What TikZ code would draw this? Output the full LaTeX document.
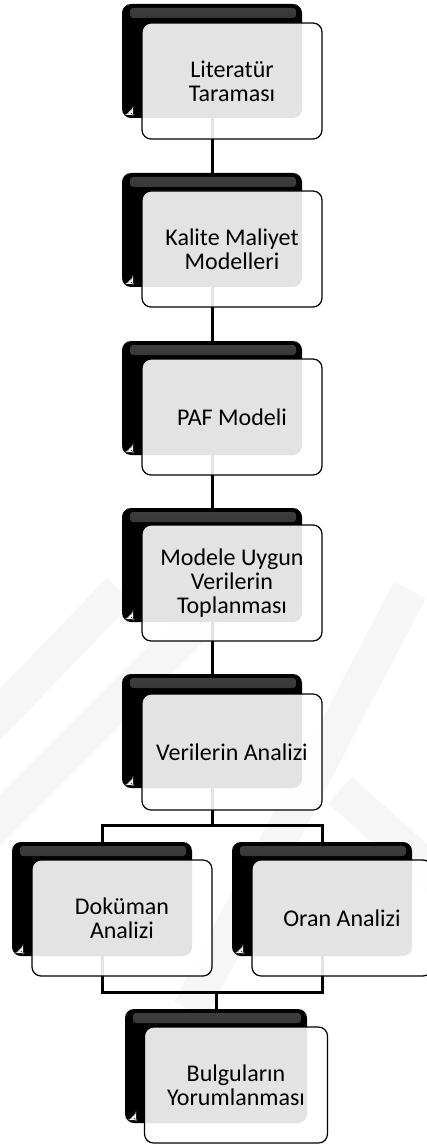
\documentclass[tikz,border=0pt]{standalone}
\usepackage{fontspec}
\setmainfont{Carlito}
\usetikzlibrary{positioning, backgrounds}

\begin{document}
\begin{tikzpicture}[x=1pt, y=-1pt, font=\fontsize{24}{24}\selectfont]

\tikzset{
  backbox/.style={fill=black, rounded corners=9pt, minimum width=180pt, minimum height=114pt, inner sep=0pt,
    path picture={
      \fill[top color=black!75, bottom color=black, rounded corners=3pt]
        ([xshift=8pt, yshift=-4pt]path picture bounding box.north west) rectangle
        ([xshift=-6pt, yshift=-14pt]path picture bounding box.north east);
      \fill[white] ([xshift=4pt, yshift=3pt]path picture bounding box.south west) -- ++(7pt,0) -- ++(0,7pt) -- cycle;
    }},
  frontbox/.style={draw, line width=1.2pt, rounded corners=9pt, fill=white, fill opacity=0.89, text opacity=1,
    minimum width=180pt, minimum height=116pt, inner sep=2pt, align=center},
  link/.style={line width=3pt},
  mark band/.style={line width=36pt, gray!7},
}

\useasboundingbox (0,0) rectangle (427,1147);

% back plates
\node[backbox] (b1) at (212,61) {};
\node[backbox] (b2) at (212,230) {};
\node[backbox] (b3) at (212,398) {};
\node[backbox] (b4) at (212,565) {};
\node[backbox] (b5) at (212,731) {};
\node[backbox] (b6) at (102,899) {};
\node[backbox] (b7) at (322,899) {};
\node[backbox, minimum width=182pt] (b8) at (216,1066) {};

% front boxes
\node[frontbox] (f1) at (232,81) {Literatür\\Taraması};
\node[frontbox] (f2) at (232,249) {Kalite Maliyet\\Modelleri};
\node[frontbox] (f3) at (232,417) {PAF Modeli};
\node[frontbox] (f4) at (232,583) {Modele Uygun\\Verilerin\\Toplanması};
\node[frontbox] (f5) at (232,752) {Verilerin Analizi};
\node[frontbox] (f6) at (122,918) {Doküman\\Analizi};
\node[frontbox] (f7) at (342,918) {Oran Analizi};
\node[frontbox, minimum width=183pt] (f8) at (236,1085) {Bulguların\\Yorumlanması};

\coordinate (split) at (212,825);
\coordinate (join) at (216,992);

\begin{scope}[on background layer]
  % faint watermark
  \draw[mark band] (-20,735) -- (120,590);
  \draw[mark band] (-20,840) -- (250,570);
  \draw[mark band] (190,1010) -- (410,590);
  \draw[mark band] (340,790) -- (440,880);
  % connectors
  \draw[link] (b1.center) -- (b2.center);
  \draw[link] (b2.center) -- (b3.center);
  \draw[link] (b3.center) -- (b4.center);
  \draw[link] (b4.center) -- (b5.center);
  \draw[link] (b5.center) -- (split);
  \draw[link] (b6.center) |- (split) -| (b7.center);
  \draw[link] (b6.center) |- (join) -| (b7.center);
  \draw[link] (join) -- (b8.center);
\end{scope}

\end{tikzpicture}
\end{document}
